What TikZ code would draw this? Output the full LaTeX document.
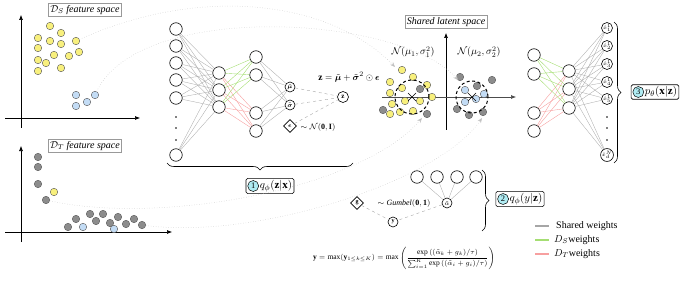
\documentclass[tikz,border=0pt]{standalone}
\usepackage{amsmath,amssymb,bm}
\usepackage{fontspec}
\setmainfont{Liberation Serif}
\usetikzlibrary{shapes.geometric,decorations.pathreplacing,arrows.meta,calc}
\definecolor{lgreen}{RGB}{165,222,115}
\definecolor{lred}{RGB}{247,160,160}
\definecolor{ptyellow}{RGB}{248,240,125}
\definecolor{ptblue}{RGB}{195,220,245}
\definecolor{ptgray}{RGB}{140,140,140}
\definecolor{numcyan}{RGB}{175,235,242}
\tikzset{
  neuron/.style={circle,draw,minimum size=12.5pt,inner sep=0pt,line width=0.6pt,fill=white},
  oneuron/.style={circle,draw,minimum size=11pt,inner sep=0pt,line width=0.6pt,fill=white,font=\fontsize{4}{4.5}\selectfont},
  sneuron/.style={circle,draw,minimum size=10pt,inner sep=0pt,line width=0.6pt,fill=white,font=\fontsize{6}{7}\selectfont},
  dnode/.style={diamond,draw,minimum size=13pt,inner sep=0pt,line width=0.6pt,fill=white,font=\fontsize{6}{7}\selectfont},
  spt/.style={circle,draw=black!65,minimum size=7.5pt,inner sep=0pt,line width=0.4pt},
  ypt/.style={spt,fill=ptyellow},
  bpt/.style={spt,fill=ptblue},
  gpt/.style={spt,fill=ptgray},
  shw/.style={draw=gray!65,line width=0.35pt},
  dsw/.style={draw=lgreen,line width=0.4pt},
  dtw/.style={draw=lred,line width=0.4pt},
  dashw/.style={draw=gray!70,dashed,line width=0.4pt},
  fbox/.style={draw=gray!80,line width=0.5pt,fill=white,inner sep=1.8pt,font=\itshape\fontsize{10}{12}\selectfont},
  qbox/.style={draw,rounded corners=1.5pt,line width=0.6pt,fill=white,inner sep=1.8pt,font=\fontsize{11}{12}\selectfont},
  numc/.style={circle,draw,fill=numcyan,minimum size=11pt,inner sep=0pt,line width=0.5pt,font=\fontsize{8.5}{9}\selectfont},
  axis/.style={draw,line width=0.6pt,-{Latex[length=5pt,width=4pt]}},
  dcurve/.style={draw=gray!45,dotted,line width=0.5pt,-{Stealth[length=5pt,width=4pt,fill=gray!60]}},
  dcirc/.style={circle,draw,dashed,dash pattern=on 3pt off 2.5pt,line width=1pt,minimum size=34pt,inner sep=0pt},
  lbl/.style={font=\fontsize{8}{9}\selectfont,inner sep=1pt},
  brc/.style={draw,line width=0.6pt,decorate,decoration={brace,amplitude=7pt}},
  legt/.style={anchor=west,inner sep=1pt,font=\fontsize{10}{12}\selectfont},
}
\begin{document}
\begin{tikzpicture}[x=1pt,y=-1pt]
\useasboundingbox (0,0) rectangle (685,286);

% ---------- D_S feature space ----------
\coordinate (dsv0) at (21,128); \coordinate (dsv1) at (21,15);
\coordinate (dsh0) at (5,118); \coordinate (dsh1) at (140,118);
\draw[axis] (dsv0) -- (dsv1);
\draw[axis] (dsh0) -- (dsh1);
\node[fbox] (dslab) at (85,10) {$\mathcal{D}_S$ feature space};
\foreach \n/\x/\y in {1/50/26,2/61/33,3/38/38,4/50/41,5/61/44,6/76/41,7/38/48,8/54/55,9/69/56,10/79/52,11/38/60,12/46/63,13/61/68,14/38/71}
  \node[ypt] (sy\n) at (\x,\y) {};
\foreach \n/\x/\y in {1/76/95,2/95/95,3/87/102,4/76/106}
  \node[bpt] (sb\n) at (\x,\y) {};

% ---------- D_T feature space ----------
\coordinate (dtv0) at (21,242); \coordinate (dtv1) at (21,146);
\coordinate (dth0) at (5,232); \coordinate (dth1) at (172,232);
\draw[axis] (dtv0) -- (dtv1);
\draw[axis] (dth0) -- (dth1);
\node[fbox] (dtlab) at (85,146) {$\mathcal{D}_T$ feature space};
\foreach \n/\x/\y in {1/38/157,2/38/167,3/38/184,4/46/200,5/76/219,6/68/227,7/96/221,8/103/214,9/110/223,10/118/217,11/126/224,12/134/219,13/142/225,14/90/214}
  \node[gpt] (tg\n) at (\x,\y) {};
\node[ypt] (ty1) at (54,192) {};
\foreach \n/\x/\y in {1/83/227,2/114/229}
  \node[bpt] (tb\n) at (\x,\y) {};

% ---------- encoder ----------
\foreach \i/\y in {1/29,2/46,3/63,4/80,5/98,6/155}
  \node[neuron] (ei\i) at (176,\y) {};
\foreach \i/\y in {1/73,2/90,3/107}
  \node[neuron] (e2\i) at (219,\y) {};
\foreach \i/\y in {1/57,2/75,3/113,4/131}
  \node[neuron] (e3\i) at (256,\y) {};
\foreach \y in {117,128,140} \fill (176,\y) circle (0.8pt);
\foreach \i in {1,...,6} \foreach \j in {1,2,3} \draw[shw] (ei\i) -- (e2\j);
\foreach \j in {1,2,3} {
  \draw[dsw] (e2\j) -- (e31); \draw[dsw] (e2\j) -- (e32);
  \draw[dtw] (e2\j) -- (e33); \draw[dtw] (e2\j) -- (e34);
}
\node[sneuron] (emu) at (290,87) {$\tilde{\bm\mu}$};
\node[sneuron] (esig) at (290,105) {$\tilde{\bm\sigma}$};
\node[dnode] (eeps) at (290,126) {$\bm\epsilon$};
\node[neuron,minimum size=11pt,font=\fontsize{7}{8}\selectfont] (ez) at (343,97) {$\mathbf z$};
\foreach \i in {1,...,4} {\draw[shw] (e3\i) -- (emu); \draw[shw] (e3\i) -- (esig);}
\draw[dashw] (emu) -- (ez); \draw[dashw] (esig) -- (ez); \draw[dashw] (eeps) -- (ez);
\node[lbl,font=\fontsize{9.5}{10}\selectfont] (zeq) at (349,77) {$\mathbf z=\tilde{\bm\mu}+\tilde{\bm\sigma}^2\odot\bm\epsilon$};
\node[lbl] (epsd) at (318,127) {$\sim\mathcal N(\mathbf 0,\mathbf I)$};
\coordinate (encb0) at (353,163); \coordinate (encb1) at (167,163);
\draw[brc] (encb0) -- (encb1);
\node[qbox] (qenc) at (270,186) {\hspace{12pt}$q_{\phi}(\mathbf z|\mathbf x)$};
\node[numc] (qencn) at ([xshift=7.5pt]qenc.west) {1};

% ---------- shared latent space ----------
\coordinate (lav0) at (446,130); \coordinate (lav1) at (446,33);
\coordinate (lah0) at (382,97); \coordinate (lah1) at (516,97);
\draw[axis] (lav0) -- (lav1);
\draw[axis,draw=black!70] (lah0) -- (lah1);
\node[fbox] (llab) at (446,22) {Shared latent space};
\node[lbl,font=\fontsize{10}{11}\selectfont] (nl1) at (413,52) {$\mathcal N(\mu_1,\sigma_1^2)$};
\node[lbl,font=\fontsize{10}{11}\selectfont] (nl2) at (479,52) {$\mathcal N(\mu_2,\sigma_2^2)$};
\foreach \n/\x/\y in {1/402/70,2/390/82,3/413/77,4/402/88,5/427/85,6/390/93,7/432/97,8/405/101,9/420/101,10/392/104,11/400/112,12/390/114,13/413/111}
  \node[ypt] (ly\n) at (\x,\y) {};
\foreach \n/\x/\y in {1/420/89,2/383/110,3/427/114}
  \node[gpt] (lg\n) at (\x,\y) {};
\foreach \n/\x/\y in {1/460/77,2/492/80,3/477/86,4/457/109,5/469/115,6/483/112}
  \node[gpt] (lk\n) at (\x,\y) {};
\foreach \n/\x/\y in {1/465/90,2/484/94,3/465/102,4/476/99}
  \node[bpt] (lb\n) at (\x,\y) {};
\node[dcirc] (dc1) at (412,97) {};
\node[dcirc,minimum size=32pt] (dc2) at (472,97) {};
\draw[line width=0.6pt] ($(dc1.center)+(-4,-4)$) -- ($(dc1.center)+(4,4)$) ($(dc1.center)+(-4,4)$) -- ($(dc1.center)+(4,-4)$);
\draw[line width=0.6pt] ($(dc2.center)+(-4,-4)$) -- ($(dc2.center)+(4,4)$) ($(dc2.center)+(-4,4)$) -- ($(dc2.center)+(4,-4)$);

% dotted mapping curves
\coordinate (t1) at (395,67); \coordinate (t2) at (458,80);
\coordinate (t3) at (422,118); \coordinate (t4) at (482,118);
\draw[dcurve] (sy6) .. controls (200,-15) and (330,0) .. (t1);
\draw[dcurve] (sb2) .. controls (140,0) and (400,15) .. (t2);
\draw[dcurve] (tg4) .. controls (160,225) and (360,190) .. (t3);
\draw[dcurve] (tg13) .. controls (260,240) and (440,180) .. (t4);

% ---------- decoder ----------
\foreach \i/\y in {1/55,2/74,3/113,4/131}
  \node[neuron] (da\i) at (534,\y) {};
\foreach \i/\y in {1/71,2/89,3/108}
  \node[neuron] (db\i) at (569,\y) {};
\foreach \i/\y/\t in {1/28/{\hat x^1_1},2/46/{\hat x^1_2},3/64/{\hat x^1_3},4/82/{\hat x^1_4},5/99/{\hat x^1_5},6/155/{\hat x^N_d}}
  \node[oneuron] (do\i) at (607,\y) {$\t$};
\foreach \y in {117,128,140} \fill (607,\y) circle (0.8pt);
\foreach \j in {1,2,3} {
  \draw[dsw] (da1) -- (db\j); \draw[dsw] (da2) -- (db\j);
  \draw[dtw] (da3) -- (db\j); \draw[dtw] (da4) -- (db\j);
}
\foreach \j in {1,2,3} \foreach \i in {1,...,6} \draw[shw] (db\j) -- (do\i);
\coordinate (decb0) at (614,22); \coordinate (decb1) at (614,163);
\draw[brc] (decb0) -- (decb1);
\node[qbox] (qdec) at (655,92) {\hspace{12pt}$p_{\theta}(\mathbf x|\mathbf z)$};
\node[numc] (qdecn) at ([xshift=7.5pt]qdec.west) {3};

% ---------- classifier ----------
\foreach \i/\x in {1/417,2/437,3/457,4/476}
  \node[neuron] (ca\i) at (\x,177) {};
\node[sneuron] (calpha) at (447,203) {$\tilde\alpha$};
\foreach \i in {1,...,4} \draw[shw] (ca\i) -- (calpha);
\node[dnode] (cg) at (357,203) {$\mathbf g$};
\node[lbl] (cgum) at (404,203) {$\sim\textit{Gumbel}(\mathbf 0,\mathbf 1)$};
\node[sneuron] (cy) at (393,222) {$\mathbf y$};
\draw[dashw] (cg) -- (cy); \draw[dashw] (calpha) -- (cy);
\coordinate (clb0) at (482,170); \coordinate (clb1) at (482,231);
\draw[brc] (clb0) -- (clb1);
\node[qbox] (qcls) at (520,199) {\hspace{12pt}$q_{\phi}(y|\mathbf z)$};
\node[numc] (qclsn) at ([xshift=7.5pt]qcls.west) {2};
\node[inner sep=0pt,font=\fontsize{7.5}{9}\selectfont] (geq) at (404,258) {$\mathbf y=\max(\mathbf y_{1\le k\le K})=\max\left(\dfrac{\exp\left((\tilde\alpha_k+g_k)/\tau\right)}{\sum_{i=1}^{K}\exp\left((\tilde\alpha_i+g_i)/\tau\right)}\right)$};

% ---------- legend ----------
\coordinate (lg1a) at (535,226); \coordinate (lg1b) at (549,226);
\coordinate (lg2a) at (535,240); \coordinate (lg2b) at (549,240);
\coordinate (lg3a) at (535,254); \coordinate (lg3b) at (549,254);
\draw[draw=gray!70,line width=1.5pt] (lg1a) -- (lg1b);
\draw[draw=lgreen,line width=1.5pt] (lg2a) -- (lg2b);
\draw[draw=lred,line width=1.5pt] (lg3a) -- (lg3b);
\node[legt] (lt1) at (555,226) {Shared weights};
\node[legt] (lt2) at (553,240) {$D_S$weights};
\node[legt] (lt3) at (553,254) {$D_T$weights};
\end{tikzpicture}
\end{document}
